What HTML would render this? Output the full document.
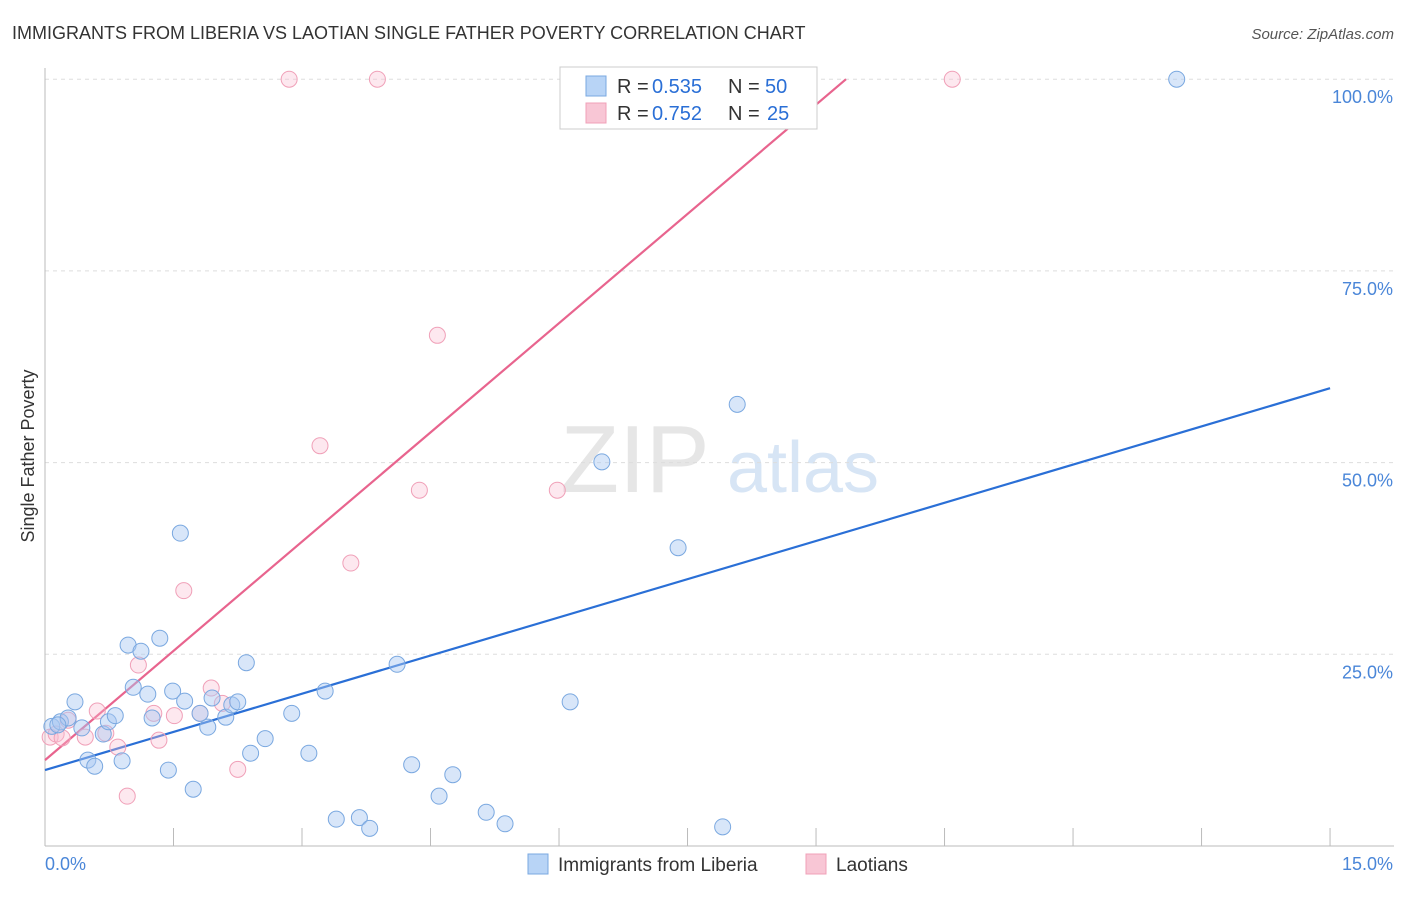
<!DOCTYPE html>
<html><head><meta charset="utf-8"><style>
body{margin:0;background:#fff;font-family:"Liberation Sans",sans-serif;}
svg text{font-family:"Liberation Sans",sans-serif;}
</style></head><body>
<svg id="c" width="1406" height="892">
<text x="12" y="39" font-size="18" fill="#333">IMMIGRANTS FROM LIBERIA VS LAOTIAN SINGLE FATHER POVERTY CORRELATION CHART</text>
<text x="1394" y="39" font-size="15" fill="#555" font-style="italic" text-anchor="end">Source: ZipAtlas.com</text>
<text x="34" y="456" font-size="18" fill="#333" transform="rotate(-90 34 456)" text-anchor="middle">Single Father Poverty</text>
<g><text x="635" y="492" font-size="96" fill="#e6e6e6" font-family="Liberation Serif" text-anchor="middle">ZIP</text><text x="803" y="492" font-size="72" fill="#d7e5f5" text-anchor="middle">atlas</text></g>
<g id="grid"></g><g id="axes"></g><g id="lines"></g><g id="pts"></g>
<g>
<rect x="560" y="67" width="257" height="62" fill="#fff" stroke="#ccc"/>
<rect x="586" y="76" width="20" height="20" fill="#b8d4f6" stroke="#7aa8e0"/>
<text x="617" y="93" font-size="20" fill="#333">R =</text>
<text x="652" y="93" font-size="20" fill="#2a6fd6">0.535</text>
<text x="728" y="93" font-size="20" fill="#333">N =</text>
<text x="765" y="93" font-size="20" fill="#2a6fd6">50</text>
<rect x="586" y="103" width="20" height="20" fill="#f8c6d5" stroke="#f0a0b8"/>
<text x="617" y="120" font-size="20" fill="#333">R =</text>
<text x="652" y="120" font-size="20" fill="#2a6fd6">0.752</text>
<text x="728" y="120" font-size="20" fill="#333">N =</text>
<text x="767" y="120" font-size="20" fill="#2a6fd6">25</text>
</g>
<g>
<rect x="528" y="854" width="20" height="20" fill="#b8d4f6" stroke="#7aa8e0"/>
<text x="558" y="871" font-size="19" fill="#333">Immigrants from Liberia</text>
<rect x="806" y="854" width="20" height="20" fill="#f8c6d5" stroke="#f0a0b8"/>
<text x="836" y="871" font-size="19" fill="#333">Laotians</text>
</g>
</svg>
<script>
const yTicks=[25,50,75,100];
const yTickLabels=["25.0%","50.0%","75.0%","100.0%"];
const xTicks=[0,1.5,3,4.5,6,7.5,9,10.5,12,13.5,15];
const blueX=[0.08,0.18,0.27,0.35,0.43,0.50,0.58,0.68,0.74,0.82,0.90,0.97,1.03,1.12,1.20,1.25,1.34,1.44,1.49,1.58,1.63,1.73,1.81,1.90,1.95,2.11,2.18,2.25,2.35,2.40,2.57,2.88,3.08,3.27,3.40,3.67,3.79,4.11,4.28,4.60,4.76,5.15,5.37,6.13,6.50,7.39,7.91,8.08,13.21,0.15];
const blueY=[15.6,16.2,16.7,18.8,15.4,11.2,10.4,14.6,16.2,17.0,11.1,26.2,20.7,25.4,19.8,16.7,27.1,9.9,20.2,40.8,18.9,7.4,17.3,15.5,19.3,16.8,18.4,18.8,23.9,12.1,14.0,17.3,12.1,20.2,3.5,3.7,2.3,23.7,10.6,6.5,9.3,4.4,2.9,18.8,50.1,38.9,2.5,57.6,100,15.8];
const pinkX=[0.06,0.13,0.2,0.27,0.47,0.61,0.71,0.85,0.96,1.09,1.27,1.33,1.51,1.62,1.81,1.94,2.07,2.25,2.85,3.21,3.57,3.88,4.37,4.58,5.98,10.59];
const pinkY=[14.2,14.6,14.1,16.4,14.2,17.6,14.7,12.9,6.5,23.6,17.3,13.8,17.0,33.3,17.3,20.6,18.6,10.0,100,52.2,36.9,100,46.4,66.6,46.4,100];
const blueLine=[9.9,59.7];
const pinkLine=[11.2,100,9.35];
const NS="http://www.w3.org/2000/svg";
const X=v=>45+v*85.67, Y=v=>846-v*7.668;
function mk(p,t,a){const e=document.createElementNS(NS,t);for(const k in a)e.setAttribute(k,a[k]);document.getElementById(p).appendChild(e);return e;}
yTicks.forEach((t,i)=>{
 const l=mk('grid','line',{x1:45,x2:1394,y1:Y(t),y2:Y(t),stroke:'#ddd','stroke-dasharray':'4,4'});
 
 
 const tx=mk('grid','text',{x:1393,y:Y(t)+24,'font-size':18,fill:'#4a86d8','text-anchor':'end'});tx.textContent=yTickLabels[i];
 
 
});
const ax=mk('axes','line',{x1:45,x2:1394,y1:846,y2:846,stroke:'#bbb'});


const ay=mk('axes','line',{x1:45,x2:45,y1:68,y2:846,stroke:'#bbb'});


xTicks.forEach(t=>{const l=mk('axes','line',{x1:X(t),x2:X(t),y1:828,y2:846,stroke:'#bbb'});
 
 });
const x0=mk('axes','text',{x:45,y:870,'font-size':18,fill:'#4a86d8'});x0.textContent='0.0%';


const x1=mk('axes','text',{x:1393,y:870,'font-size':18,fill:'#4a86d8','text-anchor':'end'});x1.textContent='15.0%';


function dots(xs,ys,f,s,n){xs.forEach((x,i)=>{const c=mk('pts','circle',{cx:X(x),cy:Y(ys[i]),r:8,fill:f,stroke:s,'stroke-width':1});
 
 });}
dots(pinkX,pinkY,'rgba(248,190,208,0.35)','#f0a0b8','laotians-point');
dots(blueX,blueY,'rgba(168,200,242,0.45)','#7aa8e0','liberia-point');
const bl=mk('lines','line',{x1:X(0),y1:Y(blueLine[0]),x2:X(15),y2:Y(blueLine[1]),stroke:'#2a6fd6','stroke-width':2.2});


const pl=mk('lines','line',{x1:X(0),y1:Y(pinkLine[0]),x2:X(pinkLine[2]),y2:Y(pinkLine[1]),stroke:'#e8648e','stroke-width':2.2});


</script>
</body></html>
